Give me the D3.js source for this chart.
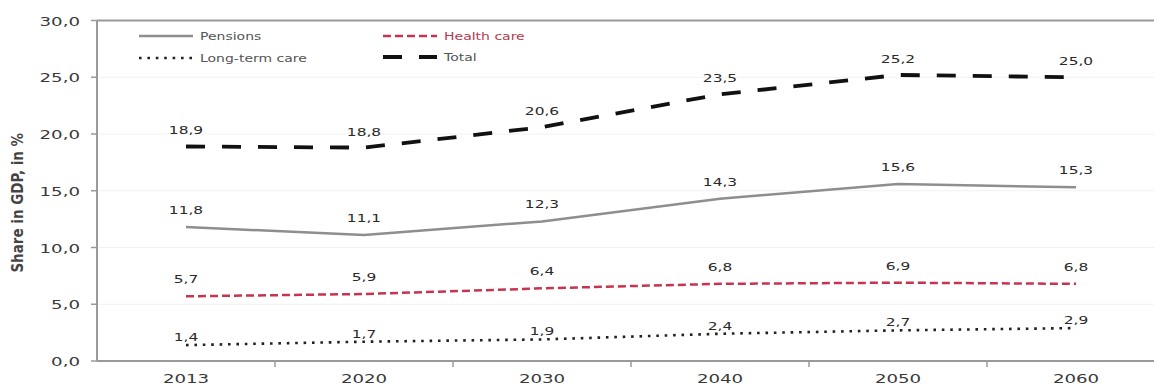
<!DOCTYPE html>
<html>
<head>
<meta charset="utf-8">
<script src="https://cdn.jsdelivr.net/npm/d3@7"></script>
<style>
  html, body { margin: 0; padding: 0; background: #fff; }
  svg { display: block; }
  text { font-family: "DejaVu Sans", Verdana, sans-serif; }
</style>
</head>
<body>
<svg id="chart" width="1154" height="385"></svg>
<script>
// Age-related public expenditure, share of GDP (%)
const years = ["2013", "2020", "2030", "2040", "2050", "2060"];
const pensions = [11.8, 11.1, 12.3, 14.3, 15.6, 15.3];
const healthCare = [5.7, 5.9, 6.4, 6.8, 6.9, 6.8];
const longTermCare = [1.4, 1.7, 1.9, 2.4, 2.7, 2.9];
const total = [18.9, 18.8, 20.6, 23.5, 25.2, 25.0];
const yTicks = [0, 5, 10, 15, 20, 25, 30];

const series = [
  { name: "Pensions", values: pensions, color: "#8e8e8e", width: 2.5, dash: null, labelDy: -13 },
  { name: "Health care", values: healthCare, color: "#c6344f", width: 2.5, dash: "8,4", labelDy: -13 },
  { name: "Long-term care", values: longTermCare, color: "#222", width: 2.6, dash: "2.6,5.8", labelDy: -4 },
  { name: "Total", values: total, color: "#111", width: 3.8, dash: "19,17", labelDy: -12 }
];

const SX = 1.4; // horizontal stretch of all lettering
const fmt = v => d3.format(".1f")(v).replace(".", ",");

const svg = d3.select("#chart");
const plotLeft = 97, plotTop = 20.5, plotBottom = 361;
const x = d3.scaleBand().domain(years).range([plotLeft, plotLeft + 6 * 178]);
const y = d3.scaleLinear().domain([0, 30]).range([plotBottom, plotTop]);
const cx = d => x(d) + x.bandwidth() / 2;

function stretchedText(g, tx, ty, str) {
  return g.append("text")
    .attr("transform", `translate(${tx},${ty}) scale(${SX},1)`)
    .text(str);
}

// faint horizontal gridlines
svg.append("g").selectAll("line")
  .data(yTicks.filter(t => t > 0 && t < 30))
  .join("line")
  .attr("x1", plotLeft).attr("x2", 1154)
  .attr("y1", d => y(d)).attr("y2", d => y(d))
  .attr("stroke", "#f1f1f1").attr("stroke-width", 1);

// top border of plot area
svg.append("line")
  .attr("x1", plotLeft).attr("x2", 1154)
  .attr("y1", y(30)).attr("y2", y(30))
  .attr("stroke", "#9a9a9a").attr("stroke-width", 2);

// y axis
const yAxis = svg.append("g");
yAxis.append("line")
  .attr("x1", plotLeft).attr("x2", plotLeft)
  .attr("y1", y(30)).attr("y2", plotBottom)
  .attr("stroke", "#9a9a9a").attr("stroke-width", 2);
yAxis.selectAll("line.tick")
  .data(yTicks).join("line").attr("class", "tick")
  .attr("x1", plotLeft - 6).attr("x2", plotLeft)
  .attr("y1", d => y(d)).attr("y2", d => y(d))
  .attr("stroke", "#9a9a9a").attr("stroke-width", 1.5);
yTicks.forEach(t => {
  stretchedText(yAxis, 80, y(t) + 5, fmt(t))
    .attr("text-anchor", "end")
    .attr("font-size", 13).attr("fill", "#3a3a3a");
});

// y axis title
svg.append("text")
  .attr("transform", `translate(23,${(y(30) + plotBottom) / 2 + 12}) rotate(-90) scale(1,1.15)`)
  .attr("text-anchor", "middle")
  .attr("font-size", 13.5).attr("font-weight", "bold").attr("fill", "#444")
  .text("Share in GDP, in %");

// x axis
const xAxis = svg.append("g");
xAxis.append("line")
  .attr("x1", plotLeft).attr("x2", 1154)
  .attr("y1", plotBottom).attr("y2", plotBottom)
  .attr("stroke", "#9a9a9a").attr("stroke-width", 2);
xAxis.selectAll("line.tick")
  .data(years.slice(1)).join("line").attr("class", "tick")
  .attr("x1", d => x(d)).attr("x2", d => x(d))
  .attr("y1", plotBottom).attr("y2", plotBottom + 6)
  .attr("stroke", "#9a9a9a").attr("stroke-width", 1.5);
years.forEach(yr => {
  stretchedText(xAxis, cx(yr), 383, yr)
    .attr("text-anchor", "middle")
    .attr("font-size", 13).attr("fill", "#3a3a3a");
});

// series lines and value labels
const line = d3.line()
  .x((d, i) => cx(years[i]))
  .y(d => y(d));
series.forEach(s => {
  const p = svg.append("path")
    .datum(s.values)
    .attr("d", line)
    .attr("fill", "none")
    .attr("stroke", s.color)
    .attr("stroke-width", s.width)
    .attr("stroke-linejoin", "round");
  if (s.dash) p.attr("stroke-dasharray", s.dash);
  const lg = svg.append("g");
  s.values.forEach((v, i) => {
    stretchedText(lg, cx(years[i]), y(v) + s.labelDy, fmt(v))
      .attr("text-anchor", "middle")
      .attr("font-size", 11).attr("fill", "#2a2a2a");
  });
});

// legend
const legendPos = {
  "Pensions": [139, 36],
  "Long-term care": [139, 58],
  "Health care": [383, 36],
  "Total": [383, 57]
};
series.forEach(s => {
  const [lx, ly] = legendPos[s.name];
  const l = svg.append("line")
    .attr("x1", lx).attr("x2", lx + 54)
    .attr("y1", ly).attr("y2", ly)
    .attr("stroke", s.color).attr("stroke-width", s.width);
  if (s.dash) l.attr("stroke-dasharray", s.dash);
  stretchedText(svg, lx + 61, ly + 4, s.name)
    .attr("font-size", 10)
    .attr("fill", s.name === "Health care" ? "#b83a4e" : "#555");
});
</script>
</body>
</html>
